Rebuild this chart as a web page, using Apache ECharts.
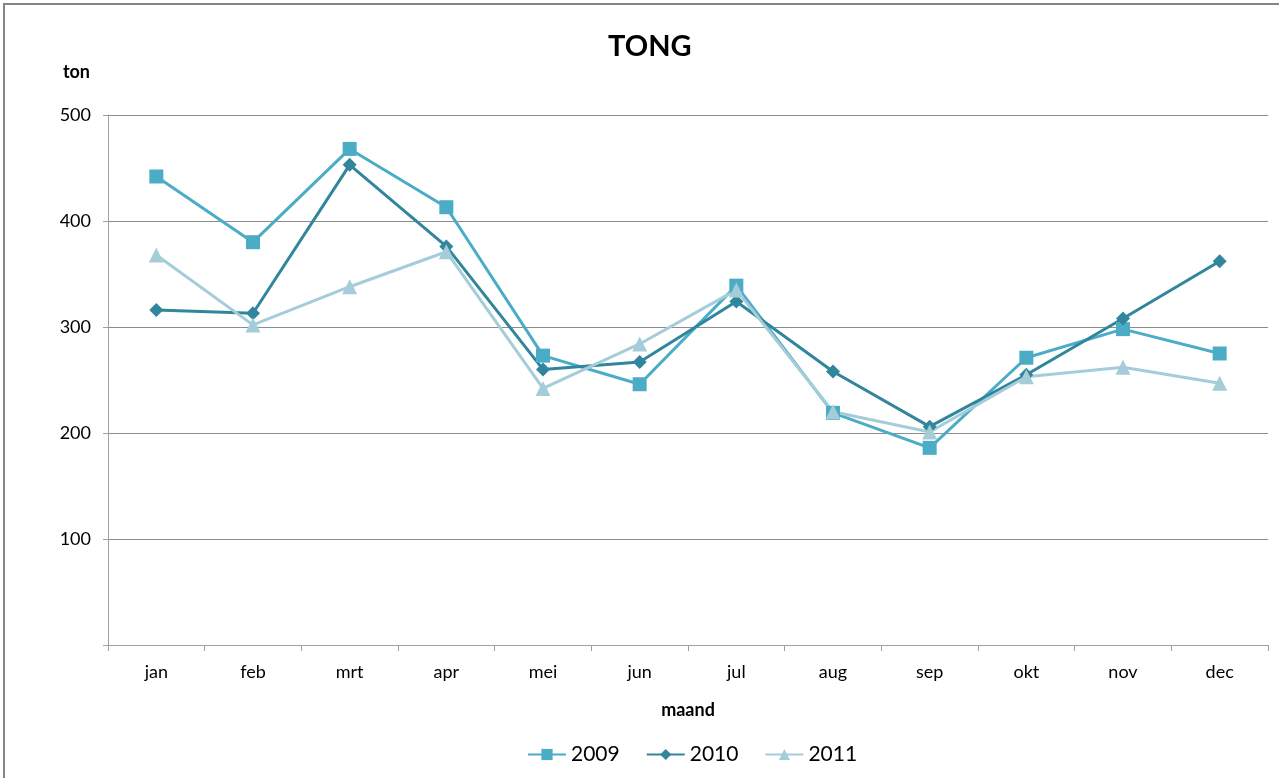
<!DOCTYPE html>
<html>
<head>
<meta charset="utf-8">
<script src="https://cdn.jsdelivr.net/npm/echarts@6/dist/echarts.min.js"></script>
<style>
    html, body { margin: 0; padding: 0; background: #fff; }
    #chart { width: 1279px; height: 778px; }
</style>
</head>
<body>
<div id="chart"></div>
<script>
const months = ['jan', 'feb', 'mrt', 'apr', 'mei', 'jun', 'jul', 'aug', 'sep', 'okt', 'nov', 'dec'];
const tong2009 = [442, 380, 468, 413, 273, 246, 339, 219, 186, 271, 298, 275];
const tong2010 = [316, 313, 453, 376, 260, 267, 324, 258, 206, 255, 308, 362];
const tong2011 = [368, 302, 338, 371, 242, 284, 335, 220, 201, 253, 262, 247];

const font = 'Lato, "Open Sans", sans-serif';

function lineSeries(name, data, symbol, size, color) {
    return {
        name: name,
        type: 'line',
        data: data,
        symbol: symbol,
        symbolSize: size,
        lineStyle: { width: 3, color: color },
        itemStyle: { color: color },
        emphasis: { disabled: true }
    };
}

const chart = echarts.init(document.getElementById('chart'));
chart.setOption({
    animation: false,
    title: {
        text: 'TONG',
        left: 603,
        top: 27,
        textStyle: { fontFamily: font, fontSize: 29, fontWeight: 'bold', color: '#000' }
    },
    graphic: [{
        type: 'rect',
        shape: { x: 4, y: 4, width: 1300, height: 800 },
        style: { fill: 'none', stroke: '#868686', lineWidth: 2 }
    }],
    legend: {
        bottom: 8,
        left: 522,
        itemWidth: 38,
        itemHeight: 14,
        itemGap: 26,
        textStyle: { fontFamily: font, fontSize: 21, color: '#000' },
        data: ['2009', '2010', '2011']
    },
    grid: { left: 108, right: 11, top: 115, bottom: 133 },
    xAxis: {
        type: 'category',
        data: months,
        boundaryGap: true,
        name: 'maand',
        nameLocation: 'middle',
        nameGap: 56,
        nameTextStyle: { fontFamily: font, fontSize: 18, fontWeight: 'bold', color: '#000' },
        axisLine: { lineStyle: { color: '#a0a0a0', width: 1 } },
        axisTick: { show: true, length: 6, lineStyle: { color: '#a0a0a0' } },
        axisLabel: { fontFamily: font, fontSize: 18, color: '#000', margin: 18 }
    },
    yAxis: {
        type: 'value',
        min: 0,
        max: 500,
        interval: 100,
        name: 'ton',
        nameLocation: 'end',
        nameGap: 34,
        nameTextStyle: { fontFamily: font, fontSize: 18, fontWeight: 'bold', color: '#000', align: 'right', padding: [0, 18, 0, 0] },
        axisLine: { show: true, lineStyle: { color: '#a0a0a0', width: 1 } },
        axisTick: { show: true, length: 5, lineStyle: { color: '#a0a0a0' } },
        axisLabel: {
            fontFamily: font, fontSize: 18, color: '#000', margin: 17,
            formatter: (v) => (v === 0 ? '' : String(v))
        },
        splitLine: { lineStyle: { color: '#8c8c8c', width: 1 } }
    },
    series: [
        lineSeries('2009', tong2009, 'rect', 14, '#4bacc6'),
        lineSeries('2010', tong2010, 'diamond', 14, '#31859c'),
        lineSeries('2011', tong2011, 'triangle', 15, '#a5cdd9')
    ]
});
</script>
</body>
</html>
